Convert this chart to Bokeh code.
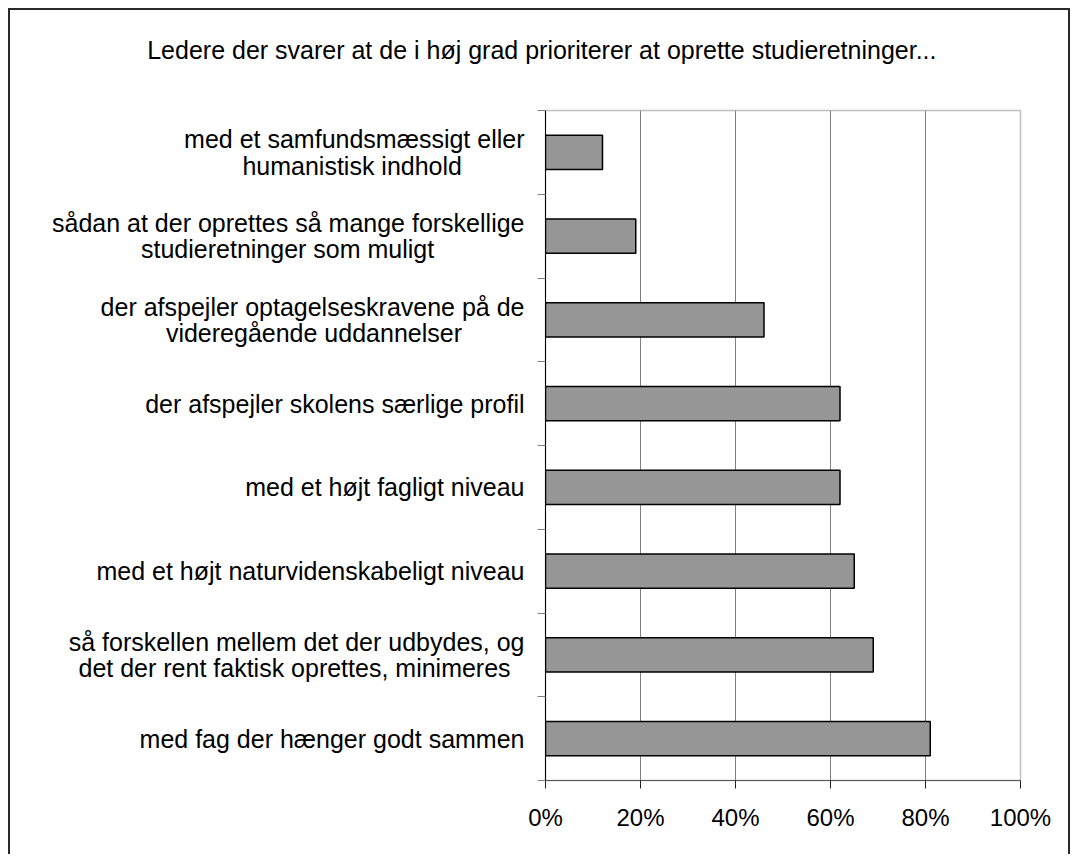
from bokeh.plotting import figure
from bokeh.models import Range1d, FixedTicker, Title
from bokeh.layouts import column
from bokeh.embed import file_html
from bokeh.resources import INLINE

title_text = "Ledere der svarer at de i høj grad prioriterer at oprette studieretninger..."
categories = [
    "med et samfundsmæssigt eller\nhumanistisk indhold",
    "sådan at der oprettes så mange forskellige\nstudieretninger som muligt",
    "der afspejler optagelseskravene på de\nvideregående uddannelser",
    "der afspejler skolens særlige profil",
    "med et højt fagligt niveau",
    "med et højt naturvidenskabeligt niveau",
    "så forskellen mellem det der udbydes, og\ndet der rent faktisk oprettes, minimeres",
    "med fag der hænger godt sammen",
]
values = [12, 19, 46, 62, 62, 65, 69, 81]
x_ticks = [0, 20, 40, 60, 80, 100]
x_tick_labels = ["0%", "20%", "40%", "60%", "80%", "100%"]

FONT = "Liberation Sans"
FS_LABEL = 25
FS_TICK = 24
FS_TITLE = 25

# Arial / Liberation Sans advance widths (per 1000 em), used to centre wrapped lines
W = {' ': 278, ',': 278, '.': 278, 'a': 556, 'b': 556, 'c': 500, 'd': 556, 'e': 556,
     'f': 278, 'g': 556, 'h': 556, 'i': 222, 'j': 222, 'k': 500, 'l': 222, 'm': 833,
     'n': 556, 'o': 556, 'p': 556, 'q': 556, 'r': 333, 's': 500, 't': 278, 'u': 556,
     'v': 500, 'w': 722, 'x': 500, 'y': 500, 'z': 500, 'æ': 889, 'ø': 611, 'å': 556,
     'L': 556}
NBSP = "\u00a0"


def text_width(s):
    return sum(W.get(ch, 556) for ch in s)


def centred(label):
    lines = label.split("\n")
    wmax = max(text_width(l) for l in lines)
    out = []
    for l in lines:
        k = int(round((wmax - text_width(l)) / 2.0 / 278))
        out.append(l + NBSP * k)
    return "\n".join(out)


n = len(categories)
ys = [i + 0.5 for i in range(n)]

FRAME_W = 475
p = figure(
    x_range=Range1d(0, 100), y_range=Range1d(n, 0),
    frame_width=FRAME_W, frame_height=670,
    min_border_left=535, min_border_right=48, min_border_top=100, min_border_bottom=74,
    output_backend="svg", toolbar_location=None,
    background_fill_color="white", border_fill_color="white",
)
p.outline_line_color = "#c0c0c0"
p.outline_line_width = 1.5

# spacer between the frame and the title, then the title itself
p.add_layout(Title(text=" ", text_font_size="10px", standoff=29), "above")
title_w = text_width(title_text) * FS_TITLE / 1000.0
title_centre = 532.0  # canvas px of the title's centre
p.add_layout(Title(
    text=title_text, align="left", offset=title_centre - title_w / 2.0 - 535,
    standoff=10, text_font=FONT, text_font_size=f"{FS_TITLE}px",
    text_font_style="normal", text_color="black",
), "above")

p.hbar(y=ys, right=values, left=0, height=0.41,
       fill_color="#969696", line_color="black", line_width=1.5)

# x axis
xa = p.xaxis[0]
xa.ticker = FixedTicker(ticks=x_ticks)
xa.major_label_overrides = {t: l for t, l in zip(x_ticks, x_tick_labels)}
xa.major_label_text_font = FONT
xa.major_label_text_font_size = f"{FS_TICK}px"
xa.major_label_text_color = "black"
xa.major_label_standoff = 15
xa.major_tick_in = 0
xa.major_tick_out = 8
xa.minor_tick_line_color = None
xa.axis_line_color = "#555555"
xa.major_tick_line_color = "#222222"

# y axis: labels at category centres, tick marks (minor) at category boundaries
ya = p.yaxis[0]
ya.ticker = FixedTicker(ticks=ys, minor_ticks=list(range(n + 1)))
ya.major_label_overrides = {y: centred(c) for y, c in zip(ys, categories)}
ya.major_label_text_font = FONT
ya.major_label_text_font_size = f"{FS_LABEL}px"
ya.major_label_text_color = "black"
ya.major_label_text_line_height = 0.95
ya.major_label_standoff = 13
ya.major_tick_line_color = None
ya.major_tick_in = 0
ya.major_tick_out = 0
ya.minor_tick_in = 0
ya.minor_tick_out = 8
ya.minor_tick_line_color = "#808080"
ya.axis_line_color = "black"

p.xgrid.ticker = FixedTicker(ticks=[20, 40, 60, 80])
p.xgrid.grid_line_color = "#808080"
p.ygrid.grid_line_color = None

layout = column(p, styles={
    "margin-left": "8px",
    "margin-top": "8px",
    "border-left": "2px solid #2a2a2a",
    "border-top": "2px solid #2a2a2a",
    "border-right": "2px solid #2a2a2a",
})

open("out.html", "w").write(file_html(layout, INLINE))
